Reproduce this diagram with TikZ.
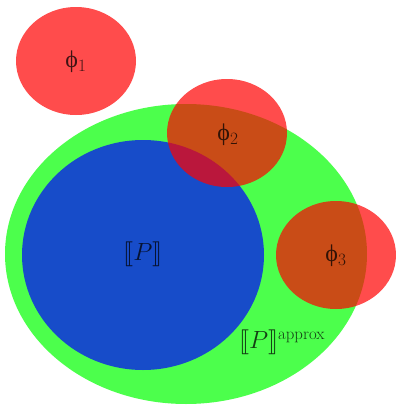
\documentclass[tikz,border=0pt]{standalone}
\usepackage{fontspec}
\usepackage{amsmath,amssymb,stmaryrd}
\usepackage{tikz}
\newfontfamily\phifont{Liberation Serif}
\newcommand{\sem}[1]{\ensuremath{\llbracket #1\rrbracket}}
\newcommand{\ph}[1]{{\phifont ϕ}\ensuremath{_{#1}}}
\definecolor{SetRed}{RGB}{255,0,0}
\definecolor{SetGreen}{RGB}{0,255,0}
\definecolor{SetBlue}{RGB}{0,0,255}

\begin{document}
\begin{tikzpicture}[x=1pt,y=-1pt,
    setfill/.style={fill=#1,fill opacity=0.7},
    setlabel/.style={text opacity=0.75,font=\fontsize{24}{28}\selectfont}]
  \useasboundingbox (0,0) rectangle (396,405);
  \fill[setfill=SetGreen] (186,254) ellipse [x radius=181,y radius=150];
  \fill[setfill=SetBlue] (143,255) ellipse [x radius=121,y radius=115];
  \fill[setfill=SetRed] (76,61) ellipse [x radius=60,y radius=54];
  \fill[setfill=SetRed] (227,133) ellipse [x radius=60,y radius=54];
  \fill[setfill=SetRed] (336,255) ellipse [x radius=60,y radius=54];
  \node[setlabel] (phione) at (76,62) {\ph{1}};
  \node[setlabel] (phitwo) at (228,135) {\ph{2}};
  \node[setlabel] (phithree) at (336,256) {\ph{3}};
  \node[setlabel] (sem) at (143,254) {\sem{P}};
  \node[setlabel] (approx) at (282,342) {\sem{P}\ensuremath{^{\text{approx}}}};
\end{tikzpicture}
\end{document}
